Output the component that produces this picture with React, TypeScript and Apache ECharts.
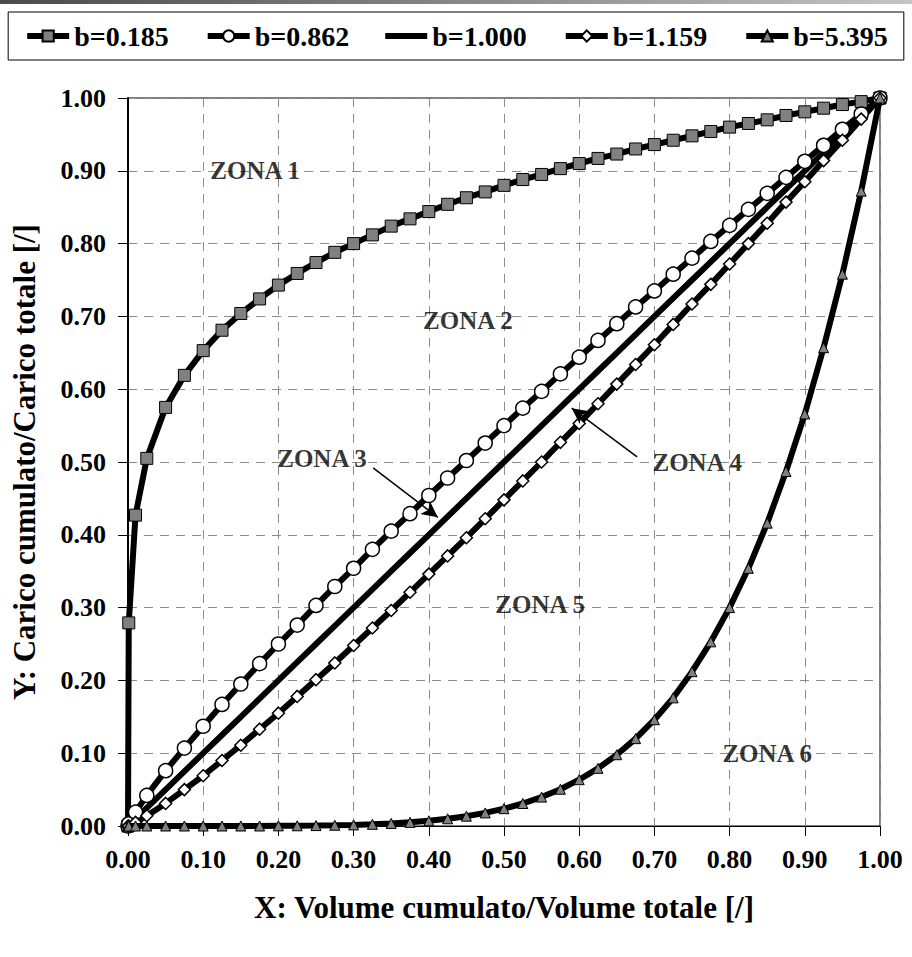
import React, { useEffect, useRef } from "react";
import * as echarts from "echarts";

const xValues = [0, 0.001, 0.01, 0.025, 0.05, 0.075, 0.1, 0.125, 0.15, 0.175, 0.2, 0.225, 0.25, 0.275, 0.3, 0.325, 0.35, 0.375, 0.4, 0.425, 0.45, 0.475, 0.5, 0.525, 0.55, 0.575, 0.6, 0.625, 0.65, 0.675, 0.7, 0.725, 0.75, 0.775, 0.8, 0.825, 0.85, 0.875, 0.9, 0.925, 0.95, 0.975, 1.0];

const yB0185 = [0, 0.279, 0.427, 0.505, 0.575, 0.619, 0.653, 0.681, 0.704, 0.724, 0.743, 0.759, 0.774, 0.788, 0.800, 0.812, 0.824, 0.834, 0.844, 0.854, 0.863, 0.871, 0.880, 0.888, 0.895, 0.903, 0.910, 0.917, 0.923, 0.930, 0.936, 0.942, 0.948, 0.954, 0.960, 0.965, 0.970, 0.976, 0.981, 0.986, 0.991, 0.995, 1.0];
const yB0862 = [0, 0.003, 0.019, 0.042, 0.076, 0.107, 0.137, 0.167, 0.195, 0.223, 0.250, 0.276, 0.303, 0.329, 0.354, 0.380, 0.405, 0.429, 0.454, 0.478, 0.502, 0.526, 0.550, 0.574, 0.597, 0.621, 0.644, 0.667, 0.690, 0.713, 0.735, 0.758, 0.780, 0.803, 0.825, 0.847, 0.869, 0.891, 0.913, 0.935, 0.957, 0.978, 1.0];
const yB1000 = [0, 0.001, 0.01, 0.025, 0.05, 0.075, 0.1, 0.125, 0.15, 0.175, 0.2, 0.225, 0.25, 0.275, 0.3, 0.325, 0.35, 0.375, 0.4, 0.425, 0.45, 0.475, 0.5, 0.525, 0.55, 0.575, 0.6, 0.625, 0.65, 0.675, 0.7, 0.725, 0.75, 0.775, 0.8, 0.825, 0.85, 0.875, 0.9, 0.925, 0.95, 0.975, 1.0];
const yB1159 = [0, 0.000, 0.005, 0.014, 0.031, 0.050, 0.069, 0.090, 0.111, 0.133, 0.155, 0.178, 0.201, 0.224, 0.248, 0.272, 0.296, 0.321, 0.346, 0.371, 0.396, 0.422, 0.448, 0.474, 0.500, 0.527, 0.553, 0.580, 0.607, 0.634, 0.661, 0.689, 0.717, 0.744, 0.772, 0.800, 0.828, 0.857, 0.885, 0.914, 0.942, 0.971, 1.0];
const yB5395 = [0, 0, 0, 0, 0, 0, 0, 0, 0, 0, 0.0002, 0.0003, 0.0006, 0.001, 0.0015, 0.0023, 0.0035, 0.005, 0.0071, 0.0099, 0.0135, 0.018, 0.0238, 0.0309, 0.0397, 0.0505, 0.0636, 0.0792, 0.0979, 0.120, 0.146, 0.176, 0.212, 0.253, 0.300, 0.354, 0.416, 0.487, 0.566, 0.657, 0.758, 0.872, 1.0];

const seriesNames = ["b=0.185", "b=0.862", "b=1.000", "b=1.159", "b=5.395"];

const zoneLabels = ["ZONA 1", "ZONA 2", "ZONA 3", "ZONA 4", "ZONA 5", "ZONA 6"];
const zoneX = [0.169, 0.452, 0.258, 0.757, 0.548, 0.85];
const zoneY = [0.901, 0.695, 0.505, 0.5, 0.304, 0.10];

// arrows: [fromX, fromY, toX, toY]
const arrowZona3 = [0.326, 0.492, 0.412, 0.424];
const arrowZona4 = [0.677, 0.507, 0.590, 0.574];

const xTitle = "X: Volume cumulato/Volume totale [/]";
const yTitle = "Y: Carico cumulato/Carico totale [/]";

const FONT = "Liberation Serif";

function pairs(ys: number[]) {
  return xValues.map((x, i) => [x, ys[i]]);
}

export default function App() {
  const ref = useRef<HTMLDivElement>(null);
  useEffect(() => {
    if (!ref.current) return;
    const chart = echarts.init(ref.current, null, { renderer: "svg" });
    const lineStyle = { color: "#000", width: 6 };
    const option: any = {
      animation: false,
      backgroundColor: "#fff",
      textStyle: { fontFamily: FONT },
      graphic: [
        {
          type: "rect",
          left: 0,
          top: 0,
          shape: { width: 912, height: 4 },
          style: {
            fill: new echarts.graphic.LinearGradient(0, 0, 1, 0, [
              { offset: 0, color: "#4a4a4a" },
              { offset: 1, color: "#c4c4c4" },
            ]),
          },
          silent: true,
        },
      ],
      legend: {
        data: [
          { name: seriesNames[0] },
          { name: seriesNames[1] },
          { name: seriesNames[2], icon: "path://M0,0 H42 V6 H0 Z" },
          { name: seriesNames[3] },
          { name: seriesNames[4] },
        ],
        top: 12,
        left: "center",
        orient: "horizontal",
        padding: [10, 16],
        itemGap: 36,
        itemWidth: 42,
        itemHeight: 14,
        borderColor: "#000",
        borderWidth: 1,
        borderRadius: 0,
        lineStyle: { width: 6, color: "#000" },
        textStyle: {
          fontFamily: FONT,
          fontWeight: "bold",
          fontSize: 28,
          color: "#000",
        },
      },
      grid: {
        left: 128,
        right: 32,
        top: 98,
        bottom: 131,
        show: true,
        borderColor: "#000",
        borderWidth: 1,
        backgroundColor: "transparent",
        outerBoundsMode: "none",
        containLabel: false,
      },
      xAxis: {
        type: "value",
        min: 0,
        max: 1,
        interval: 0.1,
        name: xTitle,
        nameLocation: "middle",
        nameGap: 66,
        nameTextStyle: { fontFamily: FONT, fontWeight: "bold", fontSize: 31, color: "#000" },
        axisLine: { show: true, lineStyle: { color: "#000", width: 1 } },
        axisTick: { show: true, inside: false, length: 10, lineStyle: { color: "#000", width: 1 } },
        axisLabel: {
          formatter: (v: number) => v.toFixed(2),
          fontFamily: FONT,
          fontWeight: "bold",
          fontSize: 26,
          color: "#000",
          margin: 20,
        },
        splitLine: { show: true, lineStyle: { color: "#8c8c8c", type: [9, 7], width: 1 } },
      },
      yAxis: {
        type: "value",
        min: 0,
        max: 1,
        interval: 0.1,
        name: yTitle,
        nameLocation: "middle",
        nameGap: 88,
        nameTextStyle: { fontFamily: FONT, fontWeight: "bold", fontSize: 31, color: "#000" },
        axisLine: { show: true, lineStyle: { color: "#000", width: 2 } },
        axisTick: { show: true, inside: false, length: 10, lineStyle: { color: "#000", width: 1 } },
        axisLabel: {
          formatter: (v: number) => v.toFixed(2),
          fontFamily: FONT,
          fontWeight: "bold",
          fontSize: 26,
          color: "#000",
          margin: 22,
        },
        splitLine: { show: true, lineStyle: { color: "#8c8c8c", type: [9, 7], width: 1 } },
      },
      series: [
        {
          name: "b=1.000",
          type: "line",
          data: pairs(yB1000),
          symbol: "none",
          lineStyle,
          itemStyle: { color: "#000" },
          z: 2,
        },
        {
          name: "b=0.185",
          type: "line",
          data: pairs(yB0185),
          symbol: "rect",
          symbolSize: 12,
          showAllSymbol: true,
          lineStyle,
          itemStyle: { color: "#808080", borderColor: "#000", borderWidth: 1 },
          z: 3,
        },
        {
          name: "b=0.862",
          type: "line",
          data: pairs(yB0862),
          symbol: "circle",
          symbolSize: 14,
          showAllSymbol: true,
          lineStyle,
          itemStyle: { color: "#fff", borderColor: "#000", borderWidth: 1.5 },
          z: 3,
        },
        {
          name: "b=1.159",
          type: "line",
          data: pairs(yB1159),
          symbol: "diamond",
          symbolSize: 12,
          showAllSymbol: true,
          lineStyle,
          itemStyle: { color: "#fff", borderColor: "#000", borderWidth: 1.5 },
          z: 3,
        },
        {
          name: "b=5.395",
          type: "line",
          data: pairs(yB5395),
          symbol: "triangle",
          symbolSize: 10,
          showAllSymbol: true,
          lineStyle,
          itemStyle: { color: "#808080", borderColor: "#000", borderWidth: 1 },
          z: 4,
        },
        {
          name: "zones",
          type: "scatter",
          data: zoneLabels.map((t, i) => [zoneX[i], zoneY[i], t]),
          symbolSize: 1,
          itemStyle: { color: "transparent" },
          silent: true,
          z: 6,
          label: {
            show: true,
            position: "inside",
            formatter: (p: any) => p.value[2],
            fontFamily: FONT,
            fontWeight: "bold",
            fontSize: 25,
            color: "#000",
          },
          markLine: {
            silent: true,
            symbol: ["none", "arrow"],
            symbolSize: [12, 16],
            label: { show: false },
            lineStyle: { color: "#000", width: 1.5, type: "solid" },
            data: [
              [
                { coord: [arrowZona3[0], arrowZona3[1]] },
                { coord: [arrowZona3[2], arrowZona3[3]] },
              ],
              [
                { coord: [arrowZona4[0], arrowZona4[1]] },
                { coord: [arrowZona4[2], arrowZona4[3]] },
              ],
            ],
          },
        },
      ],
    };
    chart.setOption(option);
    return () => chart.dispose();
  }, []);
  return (
    <div
      ref={ref}
      style={{ position: "fixed", left: 0, top: 0, width: 912, height: 957, background: "#fff" }}
    />
  );
}
